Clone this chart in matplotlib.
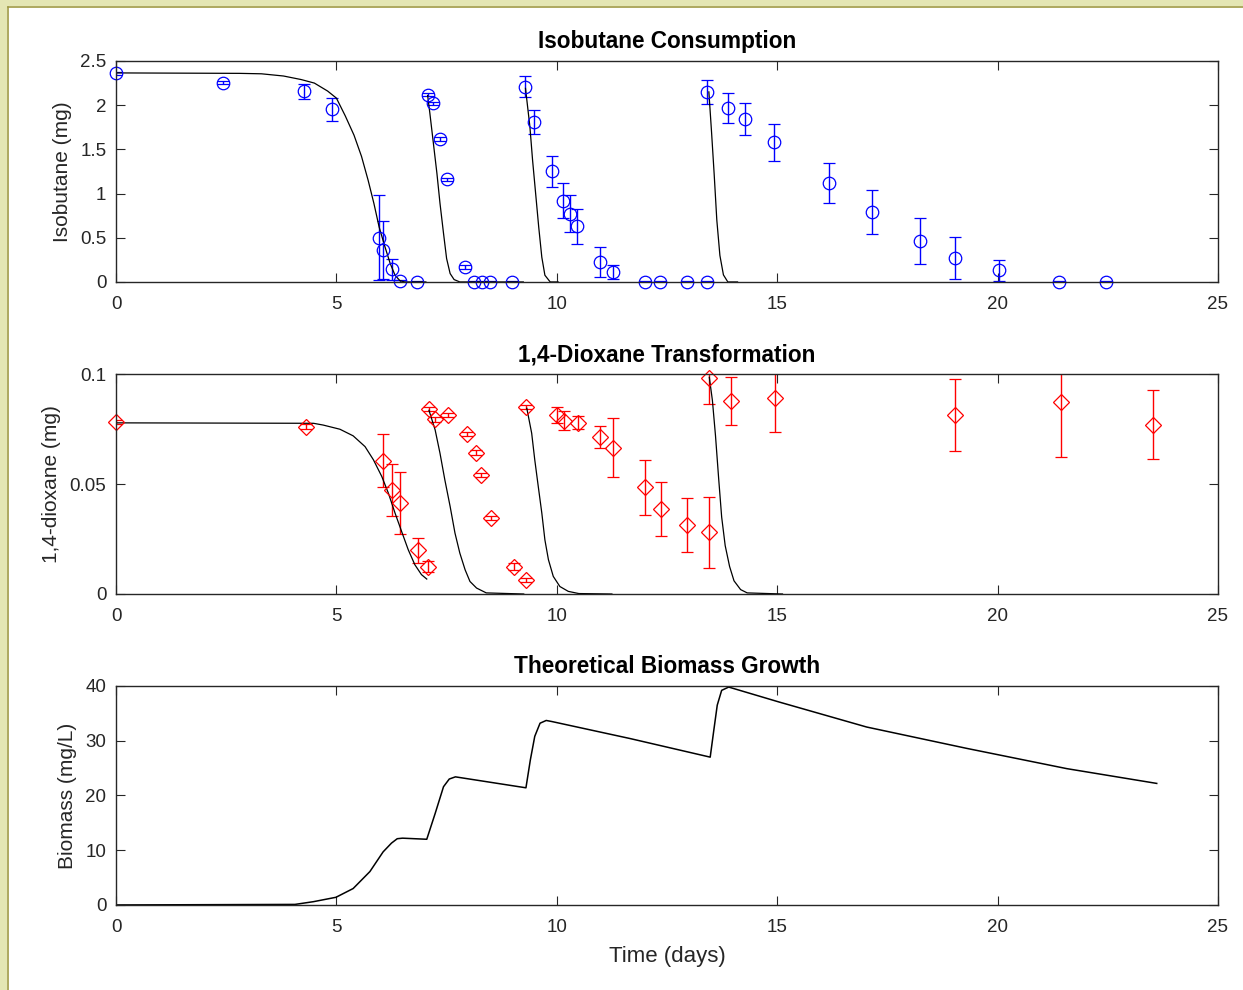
import matplotlib
matplotlib.use("Agg")
import matplotlib.pyplot as plt
from matplotlib.patches import Rectangle

plt.rcParams['font.family'] = ['Liberation Sans', 'DejaVu Sans']

# isobutane measurements (days, mg, error)
iso_t = [0.00, 2.43, 4.26, 4.89, 5.96, 6.05, 6.27, 6.44, 6.82, 7.08, 7.19, 7.36, 7.52, 7.92,
         8.12, 8.30, 8.48, 8.99, 9.28, 9.48, 9.90, 10.15, 10.30, 10.45, 10.98, 11.28,
         12.00, 12.34, 12.95, 13.41, 13.41, 13.88, 14.26, 14.92, 16.18, 17.14, 18.25,
         19.04, 20.04, 21.39, 22.46]
iso_y = [2.36, 2.255, 2.155, 1.955, 0.50, 0.36, 0.145, 0.015, 0.0, 2.12, 2.02, 1.62, 1.16, 0.17,
         0.0, 0.0, 0.0, 0.0, 2.21, 1.81, 1.25, 0.92, 0.77, 0.63, 0.23, 0.11,
         0.0, 0.0, 0.0, 0.0, 2.15, 1.97, 1.84, 1.58, 1.12, 0.79, 0.46,
         0.27, 0.13, 0.0, 0.0]
iso_err = [0.02, 0.02, 0.085, 0.13, 0.48, 0.33, 0.12, 0.01, 0.01, 0.02, 0.02, 0.02, 0.02, 0.02,
           0.01, 0.01, 0.01, 0.01, 0.115, 0.14, 0.18, 0.20, 0.21, 0.20, 0.17, 0.08,
           0.01, 0.01, 0.01, 0.01, 0.135, 0.17, 0.18, 0.21, 0.23, 0.25, 0.26,
           0.235, 0.12, 0.01, 0.01]

# isobutane model, one piece per feeding
iso_m1_t = [0, 2.8, 3.3, 3.8, 4.2, 4.5, 4.8, 5.0, 5.2, 5.4, 5.57, 5.72, 5.85, 5.97, 6.10, 6.22, 6.33, 6.44, 6.55, 7.03]
iso_m1_y = [2.365, 2.36, 2.355, 2.33, 2.29, 2.25, 2.16, 2.08, 1.88, 1.66, 1.42, 1.15, 0.89, 0.62, 0.40, 0.21, 0.076, 0.015, 0.0, 0.0]
iso_m2_t = [7.07, 7.12, 7.20, 7.28, 7.35, 7.43, 7.50, 7.58, 7.67, 7.80, 9.24]
iso_m2_y = [2.11, 1.91, 1.57, 1.23, 0.89, 0.55, 0.265, 0.095, 0.027, 0.0, 0.0]
iso_m3_t = [9.29, 9.39, 9.45, 9.52, 9.59, 9.66, 9.73, 9.85, 10.03]
iso_m3_y = [2.19, 1.755, 1.38, 1.00, 0.62, 0.28, 0.076, 0.0, 0.0]
iso_m4_t = [13.45, 13.51, 13.57, 13.63, 13.70, 13.78, 13.88, 14.10]
iso_m4_y = [2.15, 1.70, 1.22, 0.70, 0.30, 0.08, 0.0, 0.0]

# 1,4-dioxane measurements
dx_t = [0.00, 4.30, 6.06, 6.27, 6.44, 6.86, 7.07, 7.11, 7.24, 7.54, 7.96, 8.17, 8.28, 8.50,
        9.04, 9.30, 9.30, 10.00, 10.16, 10.47, 10.97, 11.28, 12.01, 12.36, 12.96, 13.46,
        13.46, 13.96, 14.94, 19.04, 21.43, 23.53]
dx_y = [0.0781, 0.0761, 0.0606, 0.0473, 0.0413, 0.0198, 0.0125, 0.0840, 0.0794, 0.0814, 0.0728,
        0.0643, 0.0542, 0.0345, 0.0125, 0.0065, 0.0850, 0.0814, 0.0788, 0.0779, 0.0713, 0.0665,
        0.0486, 0.0387, 0.0315, 0.0280, 0.0982, 0.0877, 0.0890, 0.0814, 0.0875, 0.0770]
dx_err = [0.001, 0.0012, 0.012, 0.012, 0.014, 0.0055, 0.0025, 0.001, 0.001, 0.001, 0.001,
          0.001, 0.001, 0.001, 0.0015, 0.001, 0.001, 0.0038, 0.0044, 0.003, 0.0049, 0.0135,
          0.0125, 0.0123, 0.0122, 0.0163, 0.012, 0.0111, 0.0152, 0.0163, 0.025, 0.0156]

dx_m1_t = [0, 4.48, 4.70, 5.08, 5.38, 5.65, 5.84, 6.03, 6.18, 6.33, 6.48, 6.63, 6.78, 6.93, 7.05]
dx_m1_y = [0.0778, 0.0776, 0.0768, 0.0749, 0.0719, 0.0670, 0.0610, 0.0534, 0.0458, 0.0368,
           0.0284, 0.0201, 0.0133, 0.0088, 0.0068]
dx_m2_t = [7.10, 7.24, 7.35, 7.46, 7.58, 7.69, 7.80, 7.92, 8.03, 8.18, 8.40, 9.25]
dx_m2_y = [0.0835, 0.0746, 0.064, 0.0519, 0.0398, 0.0277, 0.0186, 0.011, 0.0057, 0.0027, 0.0005, 0.0]
dx_m3_t = [9.32, 9.43, 9.50, 9.58, 9.66, 9.73, 9.81, 9.92, 10.07, 10.26, 10.50, 11.25]
dx_m3_y = [0.0844, 0.0731, 0.061, 0.0488, 0.0368, 0.0246, 0.0156, 0.008, 0.0034, 0.0012, 0.0002, 0.0]
dx_m4_t = [13.46, 13.53, 13.60, 13.67, 13.74, 13.82, 13.92, 14.02, 14.17, 14.32, 15.12]
dx_m4_y = [0.0985, 0.088, 0.072, 0.053, 0.035, 0.022, 0.0125, 0.006, 0.002, 0.0005, 0.0]

# theoretical biomass
bio_t = [0, 4.06, 4.48, 4.99, 5.38, 5.76, 6.06, 6.25, 6.38, 6.50, 7.05, 7.24, 7.43, 7.56, 7.70,
         9.30, 9.40, 9.50, 9.62, 9.76, 9.89, 11.66, 13.48, 13.56, 13.64, 13.74, 13.90,
         15.03, 17.03, 19.30, 21.57, 23.61]
bio_y = [0, 0.1, 0.6, 1.4, 3.0, 6.1, 9.7, 11.3, 12.1, 12.2, 12.0, 16.7, 21.6, 23.0, 23.4,
         21.4, 26.5, 30.8, 33.2, 33.7, 33.5, 30.4, 27.0, 31.8, 36.5, 39.2, 39.8,
         37.1, 32.5, 28.6, 24.9, 22.2]

xticks = [0, 5, 10, 15, 20, 25]
tc = '#262626'

fig = plt.figure(figsize=(12.43, 9.9), dpi=100)
# window frame on the left and top
fig.patches.append(Rectangle((0, 0), 7 / 1243, 1, transform=fig.transFigure,
                             facecolor='#e4e6b4', edgecolor='none'))
fig.patches.append(Rectangle((0, 1 - 6 / 990), 1, 6 / 990, transform=fig.transFigure,
                             facecolor='#e4e6b4', edgecolor='none'))
fig.add_artist(plt.Line2D([7.5 / 1243, 7.5 / 1243], [0, 1 - 6.5 / 990], color='#a09a44',
                          lw=1.2, transform=fig.transFigure))
fig.add_artist(plt.Line2D([7.5 / 1243, 1], [1 - 6.5 / 990, 1 - 6.5 / 990], color='#a09a44',
                          lw=1.2, transform=fig.transFigure))

left, width = 116 / 1243, 1102 / 1243
ax1 = fig.add_axes([left, 0.7152, width, 0.2232])
ax2 = fig.add_axes([left, 0.4000, width, 0.2222])
ax3 = fig.add_axes([left, 0.0859, width, 0.2212])


def style(ax):
    ax.set_xlim(0, 25)
    ax.set_xticks(xticks)
    ax.tick_params(direction='in', top=True, right=True, length=6.5, width=0.8,
                   colors=tc, labelsize=13.5, pad=10)
    ax.tick_params(axis='y', pad=7)
    for s in ax.spines.values():
        s.set_color(tc)
        s.set_linewidth(1.0)


# isobutane
eb = ax1.errorbar(iso_t, iso_y, yerr=iso_err, fmt='o', color='blue', mfc='none', mec='blue',
                  ms=9, mew=0.9, elinewidth=1.0, capsize=4.5, capthick=1.0)
eb[0].set_clip_on(False)
for t, y in [(iso_m1_t, iso_m1_y), (iso_m2_t, iso_m2_y), (iso_m3_t, iso_m3_y), (iso_m4_t, iso_m4_y)]:
    ax1.plot(t, y, color='black', lw=0.9)
style(ax1)
ax1.set_ylim(0, 2.5)
ax1.set_yticks([0, 0.5, 1, 1.5, 2, 2.5])
ax1.set_yticklabels(['0', '0.5', '1', '1.5', '2', '2.5'])
ax1.set_ylabel('Isobutane (mg)', fontsize=15, color=tc, labelpad=6)
ax1.set_title('Isobutane Consumption', fontsize=16.3, fontweight='bold', pad=9)

# dioxane
eb = ax2.errorbar(dx_t, dx_y, yerr=dx_err, fmt='D', color='red', mfc='none', mec='red',
                  ms=8.3, mew=0.9, elinewidth=1.0, capsize=4.5, capthick=1.0)
eb[0].set_clip_on(False)
for t, y in [(dx_m1_t, dx_m1_y), (dx_m2_t, dx_m2_y), (dx_m3_t, dx_m3_y), (dx_m4_t, dx_m4_y)]:
    ax2.plot(t, y, color='black', lw=0.9)
style(ax2)
ax2.set_ylim(0, 0.1)
ax2.set_yticks([0, 0.05, 0.1])
ax2.set_yticklabels(['0', '0.05', '0.1'])
ax2.set_ylabel('1,4-dioxane (mg)', fontsize=15, color=tc, labelpad=6)
ax2.set_title('1,4-Dioxane Transformation', fontsize=16.3, fontweight='bold', pad=9)

# biomass
ax3.plot(bio_t, bio_y, color='black', lw=1.1)
style(ax3)
ax3.set_ylim(0, 40)
ax3.set_yticks([0, 10, 20, 30, 40])
ax3.set_ylabel('Biomass (mg/L)', fontsize=15, color=tc, labelpad=6)
ax3.set_xlabel('Time (days)', fontsize=16, color=tc, labelpad=7)
ax3.set_title('Theoretical Biomass Growth', fontsize=16.3, fontweight='bold', pad=9)

fig.savefig('out.png', dpi=100)
